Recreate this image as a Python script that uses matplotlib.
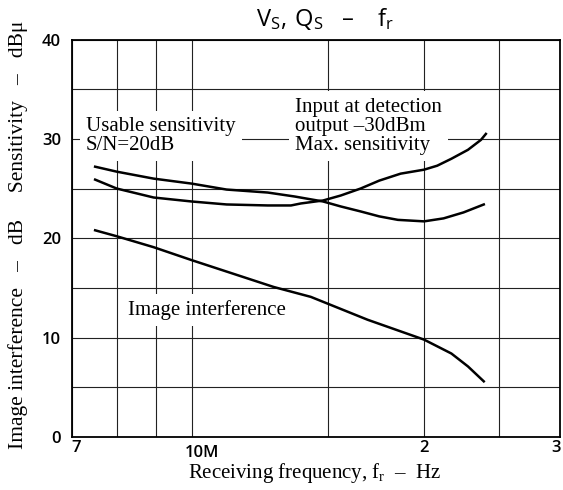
import matplotlib
matplotlib.use("Agg")
import matplotlib.pyplot as plt
import matplotlib.transforms as mtransforms

# ---- data (frequency in MHz, level in dB) ----
freq_a = [7.5, 8.0, 8.93, 10.0, 11.1, 12.55, 13.6, 14.8, 15.6, 16.55, 17.5, 18.5, 20.0, 21.2, 22.5, 23.9]
sens_a = [27.2, 26.7, 26.0, 25.5, 24.9, 24.6, 24.2, 23.7, 23.2, 22.7, 22.2, 21.85, 21.7, 22.0, 22.6, 23.4]

freq_b = [7.5, 8.0, 8.93, 10.0, 11.1, 12.55, 13.45, 13.85, 14.8, 15.6, 16.55, 17.5, 18.65, 20.0, 20.8, 21.7, 22.8, 23.7, 24.05]
sens_b = [25.9, 25.0, 24.1, 23.7, 23.4, 23.3, 23.3, 23.5, 23.8, 24.3, 25.0, 25.8, 26.5, 26.9, 27.3, 28.0, 28.9, 29.9, 30.5]

freq_img = [7.5, 8.0, 8.93, 10.0, 12.77, 14.27, 16.9, 20.0, 21.7, 22.8, 23.9]
img_int = [20.8, 20.2, 19.1, 17.8, 15.1, 14.1, 11.8, 9.8, 8.4, 7.1, 5.6]

xtick_vals = [7, 10, 20, 30]
xtick_labels = ["7", "10M", "2", "3"]
xgrid_minor = [8, 9, 15, 25]
ytick_vals = [0, 10, 20, 30, 40]
ytick_labels = ["0", "10", "20", "30", "40"]
ygrid_minor = [5, 15, 25, 35]

plt.rcParams["mathtext.fontset"] = "custom"
plt.rcParams["mathtext.rm"] = "Liberation Serif"
plt.rcParams["mathtext.sf"] = "Open Sans"

SERIF = "Liberation Serif"
SANS = "Open Sans"
DASH = "\u2013"

fig = plt.figure(figsize=(5.63, 4.90), dpi=100)
ax = fig.add_axes([72/563, 1-437/490, 488/563, 397.5/490])

ax.set_xscale("log")
ax.set_xlim(7, 30)
ax.set_ylim(0, 40)

ax.set_xticks(xtick_vals)
ax.set_xticklabels(xtick_labels, fontfamily=SANS, fontsize=12, fontweight="semibold")
ax.set_xticks(xgrid_minor, minor=True)
ax.set_xticklabels([""] * len(xgrid_minor), minor=True)
ax.set_yticks(ytick_vals)
ax.set_yticklabels(ytick_labels, fontfamily=SANS, fontsize=12, fontweight="semibold")
ax.set_yticks(ygrid_minor, minor=True)
ax.tick_params(which="both", length=0)
ax.tick_params(axis="x", pad=2)
ax.tick_params(axis="y", pad=8)

ax.grid(True, which="both", color="#222222", linewidth=0.8)
ax.set_axisbelow(True)
for s in ax.spines.values():
    s.set_linewidth(1.3)
    s.set_color("black")

# shift some tick labels like the reference
lbls = ax.get_xticklabels()
lbls[0].set_transform(lbls[0].get_transform() + mtransforms.ScaledTranslation(4/100, 0, fig.dpi_scale_trans))
lbls[1].set_transform(lbls[1].get_transform() + mtransforms.ScaledTranslation(10/100, -5/100, fig.dpi_scale_trans))
lbls[3].set_transform(lbls[3].get_transform() + mtransforms.ScaledTranslation(-4/100, 0, fig.dpi_scale_trans))

ax.plot(freq_a, sens_a, color="black", lw=1.8, zorder=3, solid_joinstyle="round")
ax.plot(freq_b, sens_b, color="black", lw=1.8, zorder=3, solid_joinstyle="round")
ax.plot(freq_img, img_int, color="black", lw=1.8, zorder=3, solid_joinstyle="round")

box = dict(facecolor="white", edgecolor="none", boxstyle="square,pad=0.3")
ax.text((86-72)/488, (437-136)/397.5, "Usable sensitivity\nS/N=20dB", transform=ax.transAxes,
        fontfamily=SERIF, fontsize=15, ha="left", va="center", linespacing=1.0, bbox=box, zorder=2)
ax.text((295-72)/488, (437-126)/397.5, "Input at detection\noutput " + DASH + "30dBm\nMax. sensitivity",
        transform=ax.transAxes, fontfamily=SERIF, fontsize=15, ha="left", va="center",
        linespacing=1.0, bbox=box, zorder=2)
ax.text((128-72)/488, (437-310)/397.5, "Image interference", transform=ax.transAxes,
        fontfamily=SERIF, fontsize=15, ha="left", va="center", bbox=box, zorder=2)

fig.text(325/563, 1-19/490, r"$\mathsf{V_S,\,Q_S}$   " + DASH + r"    $\mathsf{f_r}$",
         fontfamily=SANS, fontsize=17, ha="center", va="center")
fig.text(315/563, 1-473/490, r"Receiving frequency, $\mathrm{f_r}$  " + DASH + "  Hz",
         fontfamily=SERIF, fontsize=15, ha="center", va="center")
fig.text(18/563, 1-235/490, "Image interference   " + DASH + "   dB     Sensitivity   " + DASH + "   dB\u03bc",
         fontfamily=SERIF, fontsize=15.5, ha="center", va="center", rotation=90)

fig.savefig("out.png", dpi=100)
